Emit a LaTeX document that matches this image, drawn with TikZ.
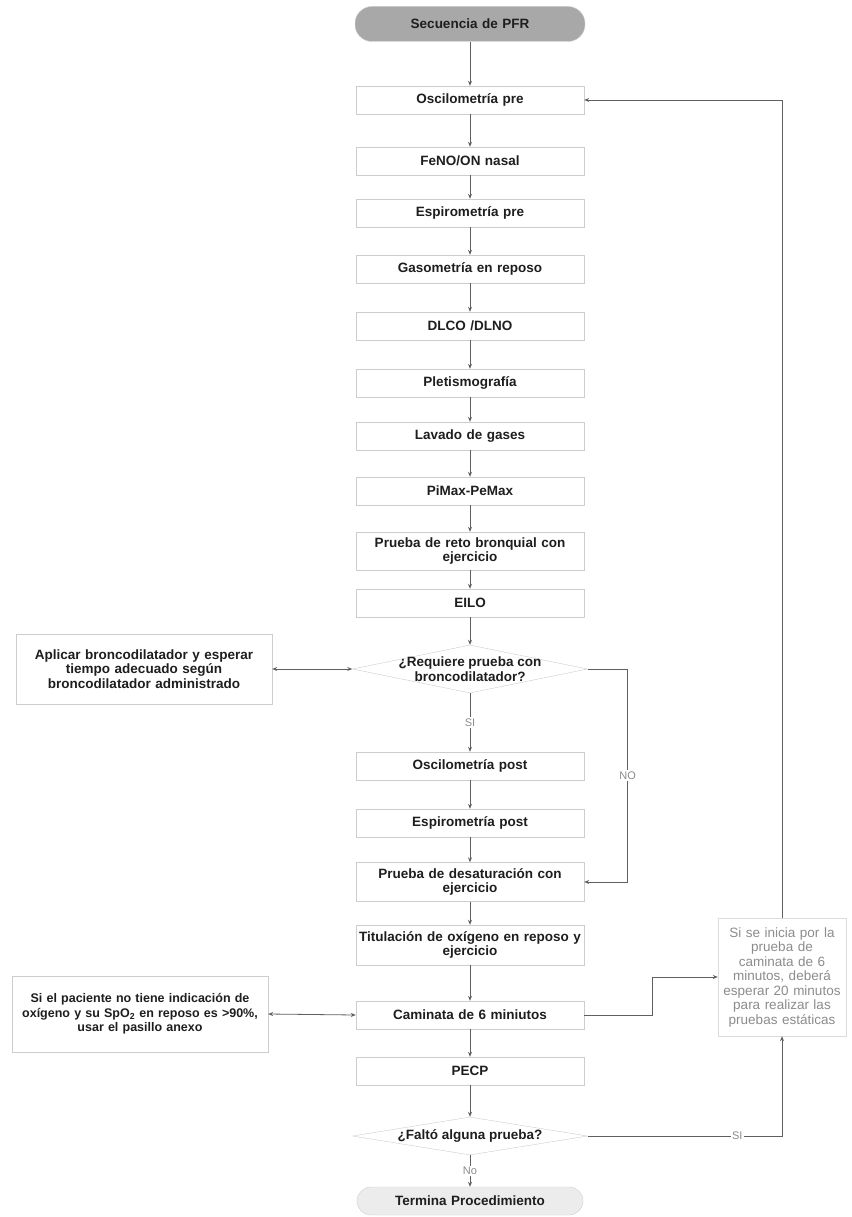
\documentclass[tikz,border=0pt]{standalone}
\usepackage{fontspec}
\setmainfont{Liberation Sans}
\usepackage{tikz}
\usetikzlibrary{arrows.meta,positioning,shapes.geometric}
\definecolor{boxline}{RGB}{205,205,205}
\definecolor{flowink}{RGB}{95,95,95}
\definecolor{startfill}{RGB}{168,168,168}
\definecolor{endfill}{RGB}{236,236,236}
\definecolor{noteink}{RGB}{140,140,140}
\definecolor{textink}{RGB}{30,30,30}
\hyphenpenalty=10000
\exhyphenpenalty=10000

\begin{document}
\begin{tikzpicture}[x=1pt,y=-1pt,
  proc/.style={draw=boxline,fill=white,minimum width=228pt,minimum height=28pt,
    text width=222pt,align=center,inner sep=2pt,text=textink,
    font=\fontsize{13.5}{14.5}\selectfont\bfseries},
  term/.style={proc,rounded corners=14pt},
  ask/.style={diamond,draw=boxline,fill=white,aspect=4.6,inner xsep=0pt,inner ysep=-6pt,
    minimum width=235pt,align=center,text=textink,
    font=\fontsize{13.5}{14.5}\selectfont\bfseries},
  sidebox/.style={draw=boxline,fill=white,minimum width=256pt,text width=252pt,
    align=center,inner sep=2pt,text=textink,font=\fontsize{13.5}{14.5}\selectfont\bfseries},
  flow/.style={draw=flowink,line width=0.8pt,-{Stealth[length=5pt,width=4pt]}},
  lbl/.style={fill=white,inner sep=1.5pt,text=noteink,font=\fontsize{11}{12}\selectfont}]
  \useasboundingbox (0,0) rectangle (851,1217);

  % main column
  \node[term,fill=startfill,minimum width=230pt,minimum height=35pt,rounded corners=17pt] (start) at (470,24) {Secuencia de PFR};
  \node[proc] (oscpre) at (470,100) {Oscilometría pre};
  \node[proc] (feno) at (470,161) {FeNO/ON nasal};
  \node[proc] (espipre) at (470,213) {Espirometría pre};
  \node[proc] (gaso) at (470,269) {Gasometría en reposo};
  \node[proc] (dlco) at (470,326) {DLCO /DLNO};
  \node[proc] (pletis) at (470,383) {Pletismografía};
  \node[proc] (lavado) at (470,436) {Lavado de gases};
  \node[proc] (pimax) at (470,491) {PiMax-PeMax};
  \node[proc,minimum height=38pt] (reto) at (470,551) {Prueba de reto bronquial con\\ejercicio};
  \node[proc] (eilo) at (470,603) {EILO};
  \node[ask,minimum height=48pt] (req) at (470,669) {¿Requiere prueba con\\broncodilatador?};
  \node[proc] (oscpost) at (470,766) {Oscilometría post};
  \node[proc] (espipost) at (470,823) {Espirometría post};
  \node[proc,minimum height=39pt] (desat) at (470,882) {Prueba de desaturación con\\ejercicio};
  \node[proc,minimum height=40pt] (titul) at (470,945) {Titulación de oxígeno en reposo y\\ejercicio};
  \node[proc] (camin) at (470,1015) {Caminata de 6 miniutos};
  \node[proc] (pecp) at (470,1071) {PECP};
  \node[ask,minimum height=38pt] (falto) at (470,1136) {¿Faltó alguna prueba?};
  \node[term,fill=endfill,minimum width=225pt] (fin) at (470,1201) {Termina Procedimiento};

  % side notes
  \node[sidebox,minimum height=70pt] (aplicar) at (144,669) {Aplicar broncodilatador y esperar\\tiempo adecuado según\\broncodilatador administrado};
  \node[sidebox,minimum height=76pt,font=\fontsize{12.5}{14.5}\selectfont\bfseries] (pasillo) at (140,1014) {Si el paciente no tiene indicación de\\oxígeno y su SpO\textsubscript{2} en reposo es >90\%,\\usar el pasillo anexo};
  \node[draw=boxline!70,fill=white,minimum width=128pt,minimum height=118pt,text width=126pt,
    align=center,inner sep=1pt,text=noteink,font=\fontsize{13.5}{14.5}\selectfont] (nota) at (782,977)
    {Si se inicia por la\\prueba de\\caminata de 6\\minutos, deberá\\esperar 20 minutos\\para realizar las\\pruebas estáticas};

  % straight down
  \foreach \a/\b in {start/oscpre,oscpre/feno,feno/espipre,espipre/gaso,gaso/dlco,dlco/pletis,
      pletis/lavado,lavado/pimax,pimax/reto,reto/eilo,eilo/req,oscpost/espipost,espipost/desat,
      desat/titul,titul/camin,camin/pecp,pecp/falto}
    \draw[flow] (\a.south) -- (\b.north);
  \draw[flow] (req.south) -- node[lbl]{SI} (oscpost.north);
  \draw[flow] (falto.south) -- node[lbl]{No} (fin.north);

  % branches
  \draw[flow] (req.east) -- ++(40,0) |- node[lbl,pos=0.25]{NO} (desat.east);
  \draw[flow,{Stealth[length=5pt,width=4pt]}-{Stealth[length=5pt,width=4pt]}] (req.west) -- (aplicar.east);
  \draw[flow,{Stealth[length=5pt,width=4pt]}-{Stealth[length=5pt,width=4pt]}] (camin.west) -- (pasillo.east);
  \draw[flow] (camin.east) -- ++(68,0) |- (nota.west);
  \draw[flow] (falto.east) -- node[lbl,pos=0.77]{SI} (falto.east -| nota.south) -- (nota.south);
  \draw[flow] (nota.north) |- (oscpre.east);
\end{tikzpicture}
\end{document}
